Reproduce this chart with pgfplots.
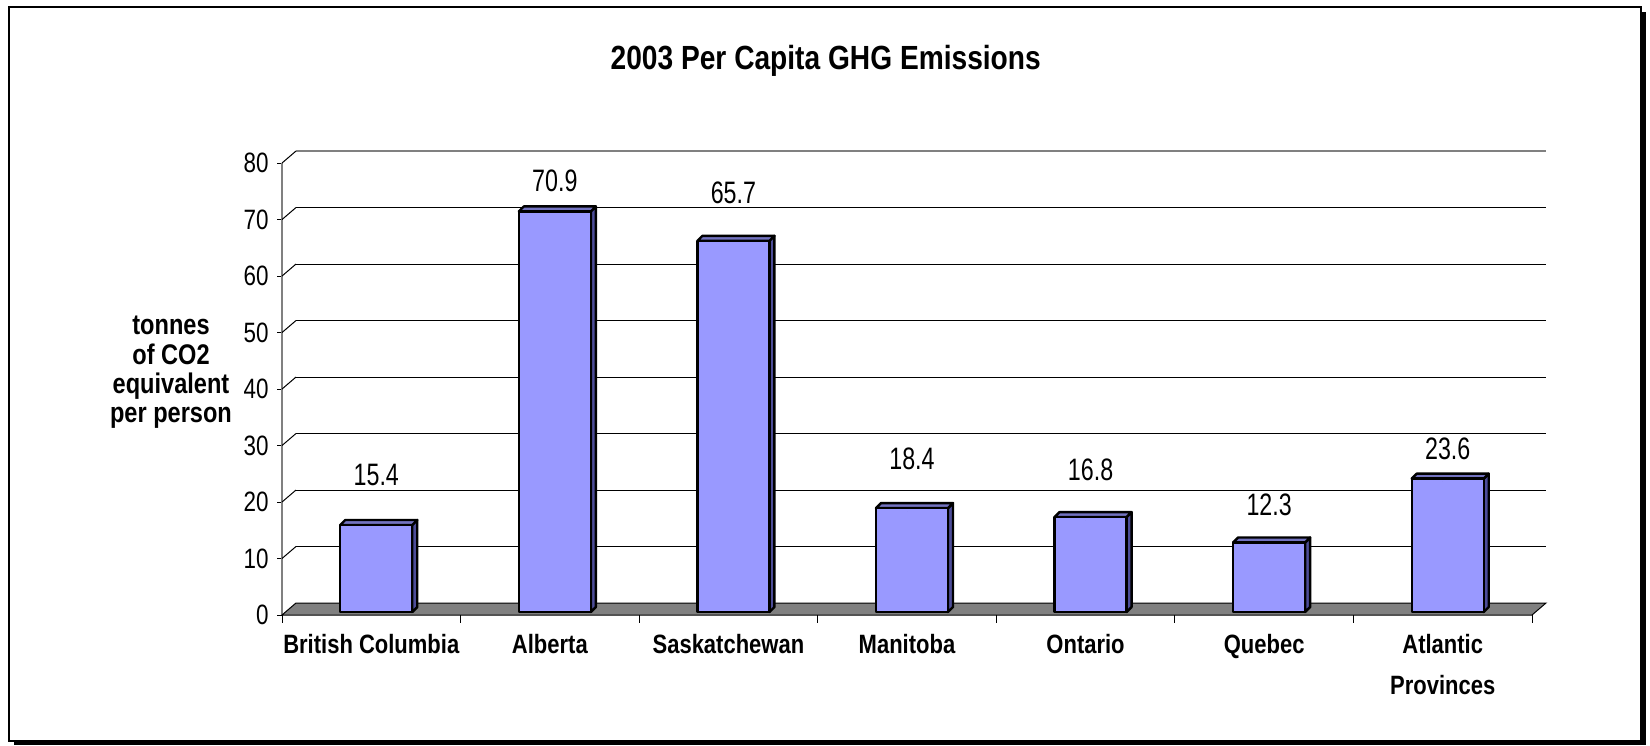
\documentclass[border=0pt]{standalone}
\usepackage{pgfplots}
\pgfplotsset{compat=1.18}
\usepackage{pgfplotstable}
\usepackage{fontspec}
\setmainfont{Liberation Sans}[FakeStretch=0.8]
\newfontfamily\boldsans{Liberation Sans}[FakeStretch=0.83]
\newfontfamily\titlefont{Liberation Sans}[FakeStretch=0.84]
\newfontfamily\labfont{Liberation Sans}[FakeStretch=0.75]

\definecolor{barfront}{HTML}{9999FF}
\definecolor{barside}{HTML}{4D4D99}
\definecolor{bartop}{HTML}{7373C0}
\definecolor{floorgray}{HTML}{808080}

% x = category, v = value, ly = where the value label sits
\pgfplotstableread{
x v ly
0 15.4 24.8
1 70.9 76.8
2 65.7 74.7
3 18.4 27.6
4 16.8 25.7
5 12.3 19.5
6 23.6 29.5
}\ghg

\begin{document}
\begin{tikzpicture}
% frame, in pixel units
\begin{scope}[x=0.5pt,y=-0.5pt]
  \useasboundingbox (0,0) rectangle (1650,745);
  \draw[line width=1pt] (8.5,6.5) rectangle (1641,741);
  \fill (1641,12) rectangle (1646,745);
  \fill (14,741) rectangle (1646,745);
\end{scope}

\begin{axis}[
  at={(141pt,-307.5pt)}, anchor=south west,
  scale only axis, width=625pt, height=226pt,
  xmin=-0.5, xmax=6.5, ymin=0, ymax=80,
  clip=false,
  axis x line*=bottom, axis y line*=left,
  x axis line style={draw=none},
  y axis line style={draw=floorgray, line width=1pt},
  ytick={0,10,...,80},
  xtick={-0.5,0.5,...,6.5},
  x tick label as interval,
  xticklabels={British Columbia, Alberta, Saskatchewan, Manitoba, Ontario, Quebec, {Atlantic\\Provinces}},
  tick align=outside,
  major tick length=2.5pt,
  ytick style={black, line width=0.5pt},
  xtick style={draw=none},
  /pgf/number format/assume math mode=true,
  yticklabel style={font=\fontsize{14}{16}\selectfont, anchor=east, inner sep=0pt, xshift=-4pt},
  xticklabel style={font=\fontsize{13.25}{20.5}\boldsans\bfseries, align=center, anchor=north,
    inner sep=0pt, yshift=-7pt},
  title={2003 Per Capita GHG Emissions},
  every axis title shift=0pt,
  title style={at={(axis description cs:0.435,1.208)}, anchor=base, inner sep=0pt,
    font=\fontsize{16.75}{20}\titlefont\bfseries},
  ylabel={tonnes\\of CO2\\equivalent\\per person},
  every axis y label/.style={at={(axis description cs:0,0.537)}, xshift=-55.5pt,
    anchor=center, align=center, font=\fontsize{14.2}{14.6}\boldsans\bfseries},
]
% floor
\filldraw[fill=floorgray, draw=black, line width=0.5pt]
  (axis cs:-0.5,0) -- (axis cs:6.5,0) -- ([shift={(7pt,6pt)}]axis cs:6.5,0)
  -- ([shift={(7pt,6pt)}]axis cs:-0.5,0) -- cycle;
% back wall grid and the slanted ticks
\pgfplotsinvokeforeach{10,20,30,40,50,60,70}{
  \draw[line width=0.5pt] ([shift={(7pt,6pt)}]axis cs:-0.5,#1) -- ([shift={(7pt,6pt)}]axis cs:6.5,#1);
  \draw[line width=0.5pt] (axis cs:-0.5,#1) -- ([shift={(7pt,6pt)}]axis cs:-0.5,#1);
}
\draw[floorgray, line width=1pt] ([shift={(7pt,6pt)}]axis cs:-0.5,80) -- ([shift={(7pt,6pt)}]axis cs:6.5,80);
\draw[line width=0.5pt] (axis cs:-0.5,80) -- ([shift={(7pt,6pt)}]axis cs:-0.5,80);
% category ticks under the floor
\pgfplotsinvokeforeach{-0.5,0.5,1.5,2.5,3.5,4.5,5.5,6.5}{
  \draw[line width=0.5pt] (axis cs:#1,0) -- ([yshift=-4pt]axis cs:#1,0);
}

% 3d bars (front face 36pt wide, depth 2.5pt, sitting 2.5pt right and 1.5pt up)
\addplot[scatter, only marks, mark=*, mark size=0pt, mark options={draw=none, fill=none},
  visualization depends on={\thisrow{v} \as \val},
  scatter/@pre marker code/.code={
    \pgfmathsetmacro\hb{1.5-\val*2.825}
    \pgfmathsetmacro\hs{4-\val*2.825}
    \filldraw[fill=barside, line width=1.2pt, line join=round]
      (20.5pt,1.5pt) -- (23pt,4pt) -- (23pt,\hs pt) -- (20.5pt,\hb pt) -- cycle;
    \filldraw[fill=bartop, line width=1.2pt, line join=round]
      (-15.5pt,1.5pt) -- (-13pt,4pt) -- (23pt,4pt) -- (20.5pt,1.5pt) -- cycle;
    \filldraw[fill=barfront, line width=1.2pt, line join=round]
      (-15.5pt,\hb pt) rectangle (20.5pt,1.5pt);
  },
  scatter/@post marker code/.code={},
] table[x=x, y=v] {\ghg};

% value labels
\addplot[only marks, mark=none, point meta=explicit symbolic, nodes near coords,
  every node near coord/.append style={font=\fontsize{15.5}{17}\labfont, anchor=center,
    inner sep=0pt, xshift=2.5pt}]
  table[x=x, y=ly, meta=v] {\ghg};
\end{axis}
\end{tikzpicture}
\end{document}
